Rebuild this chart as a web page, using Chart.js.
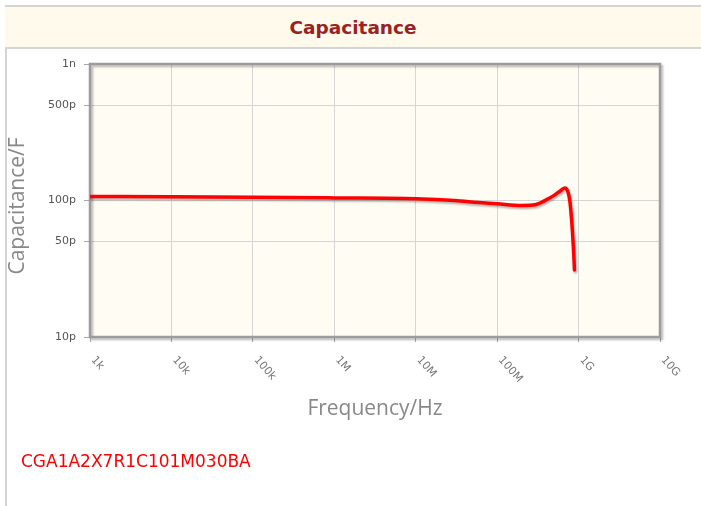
<!DOCTYPE html>
<html>
<head>
<meta charset="utf-8">
<script src="https://cdn.jsdelivr.net/npm/chart.js@4"></script>
<style>
  html,body{margin:0;padding:0;background:#fff;}
  body{width:701px;height:506px;overflow:hidden;position:relative;}
  #leftline{position:absolute;left:5px;top:5px;width:2px;height:501px;background:#d4d4d4;}
  #bar{position:absolute;left:5px;top:5px;width:700px;height:40px;background:#fffaeb;border-top:2px solid #d4d4d4;border-bottom:2px solid #d4d4d4;}
  #title{position:absolute;left:5px;top:17px;width:696px;text-align:center;font:bold 18.5px "DejaVu Sans";line-height:normal;color:#9b2222;white-space:nowrap;}
  #c{position:absolute;left:0;top:0;}
  #part{position:absolute;left:21px;top:451px;font:17px "DejaVu Sans";color:#ff0000;white-space:nowrap;}
</style>
</head>
<body>
<div id="leftline"></div>
<div id="bar"></div>
<div id="title"></div>
<canvas id="c" width="701" height="506"></canvas>
<div id="part"></div>
<script>
// ---- data ----
const freqHz = [1e3, 1e4, 1e5, 1e6, 1e7, 3e7, 6e7, 1e8, 2e8, 3e8, 4e8, 5e8, 6e8, 6.8e8, 7.4e8, 7.8e8, 8.1e8, 8.4e8, 8.7e8, 8.9e8];
const capPF  = [107, 106.6, 105.8, 104.5, 103, 100, 96.5, 94.5, 92, 93.5, 101, 109, 118, 123.5, 116, 100, 80, 60, 42, 31];
const xTickValues = [1e3, 1e4, 1e5, 1e6, 1e7, 1e8, 1e9, 1e10];
const xTickLabels = ['1k', '10k', '100k', '1M', '10M', '100M', '1G', '10G'];
const yTickValues = [10, 50, 100, 500, 1000];
const yTickLabels = ['10p', '50p', '100p', '500p', '1n'];
const chartTitle = 'Capacitance';
const xTitle = 'Frequency/Hz';
const yTitle = 'Capacitance/F';
const partNumber = 'CGA1A2X7R1C101M030BA';

document.getElementById('title').textContent = chartTitle;
document.getElementById('part').textContent = partNumber;

const points = freqHz.map((f, i) => ({x: f, y: capPF[i]}));

const decor = {
  id: 'decor',
  beforeDraw(chart) {
    const {ctx, chartArea: a} = chart;
    ctx.save();
    ctx.fillStyle = '#fffcf4';
    ctx.fillRect(a.left, a.top, a.right - a.left, a.bottom - a.top);
    ctx.restore();
  },
  beforeDatasetsDraw(chart) {
    const {ctx, chartArea: a} = chart;
    ctx.save();
    ctx.shadowColor = 'rgba(0,0,0,0.25)';
    ctx.shadowOffsetX = 2;
    ctx.shadowOffsetY = 2;
    ctx.shadowBlur = 2;
    ctx.strokeStyle = '#9c9c9c';
    ctx.lineWidth = 2.5;
    ctx.strokeRect(a.left, a.top, a.right - a.left, a.bottom - a.top);
    ctx.restore();
  },
  beforeDatasetDraw(chart) {
    const ctx = chart.ctx;
    ctx.save();
    ctx.shadowColor = 'rgba(0,0,0,0.28)';
    ctx.shadowOffsetX = 1;
    ctx.shadowOffsetY = 2;
    ctx.shadowBlur = 2;
  },
  afterDatasetDraw(chart) {
    chart.ctx.restore();
  },
  afterDraw(chart) {
    const {ctx} = chart;
    const xs = chart.scales.x;
    ctx.save();
    ctx.font = '11px "DejaVu Sans"';
    ctx.fillStyle = '#777';
    ctx.textAlign = 'left';
    ctx.textBaseline = 'middle';
    xTickValues.forEach((v, i) => {
      const px = xs.getPixelForValue(v);
      ctx.save();
      ctx.translate(px + 3, xs.top + 21);
      ctx.rotate(Math.PI * 0.27);
      ctx.fillText(xTickLabels[i], 0, 0);
      ctx.restore();
    });
    ctx.restore();
  }
};

new Chart(document.getElementById('c'), {
  type: 'line',
  data: {
    datasets: [{
      data: points,
      borderColor: '#ff0000',
      borderWidth: 3.5,
      pointRadius: 0,
      fill: false,
      cubicInterpolationMode: 'monotone',
      borderCapStyle: 'round',
      borderJoinStyle: 'round'
    }]
  },
  options: {
    responsive: false,
    animation: false,
    events: [],
    layout: {padding: {left: 0, right: 41, top: 64, bottom: 76}},
    plugins: {
      legend: {display: false},
      tooltip: {enabled: false},
      title: {display: false}
    },
    scales: {
      x: {
        type: 'logarithmic',
        min: 1e3,
        max: 1e10,
        afterBuildTicks: s => { s.ticks = xTickValues.map(v => ({value: v})); },
        afterFit: s => { s.height = 93; },
        ticks: {display: false},
        grid: {color: '#d6d6d6', lineWidth: 1, tickLength: 5, tickColor: '#aaa'},
        border: {display: false},
        title: {
          display: true,
          text: xTitle,
          color: '#888',
          font: {family: 'Open Sans', size: 21},
          padding: {top: 0, bottom: 8}
        }
      },
      y: {
        type: 'logarithmic',
        min: 10,
        max: 1000,
        afterBuildTicks: s => { s.ticks = yTickValues.map(v => ({value: v})); },
        afterFit: s => { s.width = 90; },
        ticks: {
          color: '#555',
          font: {family: 'DejaVu Sans', size: 11},
          padding: 8,
          autoSkip: false,
          callback: (v) => { const i = yTickValues.indexOf(v); return i >= 0 ? yTickLabels[i] : ''; }
        },
        grid: {color: '#d6d6d6', lineWidth: 1, tickLength: 6, tickColor: '#aaa'},
        border: {display: false},
        title: {
          display: true,
          text: yTitle + '  ',
          color: '#888',
          font: {family: 'Open Sans', size: 21},
          padding: {top: 5, bottom: 0}
        }
      }
    }
  },
  plugins: [decor]
});
</script>
</body>
</html>
